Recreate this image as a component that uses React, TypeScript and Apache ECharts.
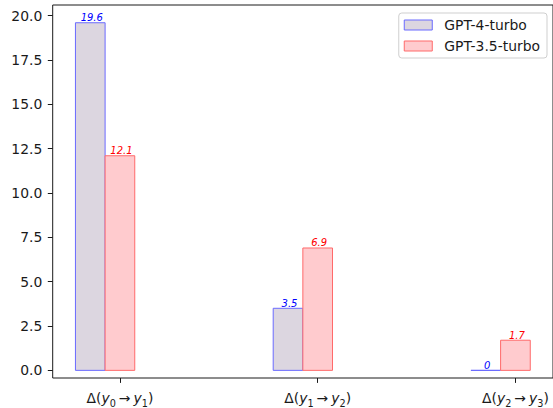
import React, { useEffect, useRef } from "react";
import * as echarts from "echarts";

const subscripts: [string, string][] = [["0", "1"], ["1", "2"], ["2", "3"]];
const positions = [0, 1, 2];
const gpt4 = [19.6, 3.5, 0];
const gpt35 = [12.1, 6.9, 1.7];
const seriesNames = ["GPT-4-turbo", "GPT-3.5-turbo"];
const yTicks = [0, 2.5, 5, 7.5, 10, 12.5, 15, 17.5, 20];

const FONT = "DejaVu Sans";
const TXT = "#1a1a1a";

const styles = [
  { fill: "#dcd6e0", stroke: "#6a6aff", label: "#0000ff", offset: -0.15 },
  { fill: "#ffcbce", stroke: "#ff6a6a", label: "#ff0000", offset: 0 },
];
const W = 0.15;

export default function App() {
  const ref = useRef<HTMLDivElement>(null);
  useEffect(() => {
    document.body.style.margin = "0";
    const chart = echarts.init(ref.current!, null, { renderer: "svg" });
    const mk = (idx: number, vals: number[]) => ({
      type: "custom",
      name: seriesNames[idx],
      itemStyle: { color: styles[idx].fill, borderColor: styles[idx].stroke, borderWidth: 1 },
      data: positions.map((p, i) => [p, vals[i]]),
      renderItem: (params: any, api: any) => {
        const x = api.value(0);
        const v = api.value(1);
        const s = styles[idx];
        const a = api.coord([x + s.offset - W / 2, v]);
        const b = api.coord([x + s.offset + W / 2, 0]);
        return {
          type: "group",
          children: [
            {
              type: "polygon",
              shape: { points: [[a[0], a[1]], [b[0], a[1]], [b[0], b[1]], [a[0], b[1]]] },
              style: { fill: s.fill, stroke: s.stroke, lineWidth: 1 },
            },
            {
              type: "text",
              x: (a[0] + b[0]) / 2 + 1.5,
              y: a[1],
              style: {
                text: v === 0 ? "0" : v.toFixed(1),
                fill: s.label,
                font: `italic 10px "${FONT}"`,
                align: "center",
                verticalAlign: "bottom",
              },
            },
          ],
        };
      },
    });
    chart.setOption({
      animation: false,
      textStyle: { fontFamily: FONT },
      grid: {
        left: 52.7,
        top: 5,
        right: -1.3,
        bottom: 28.7,
        show: true,
        borderColor: TXT,
        borderWidth: 1,
        backgroundColor: "transparent",
      },
      legend: {
        orient: "vertical",
        right: 6,
        top: 13,
        padding: [4, 7, 4, 5],
        itemGap: 5,
        itemWidth: 28,
        itemHeight: 10,
        borderColor: "#cfcfcf",
        borderWidth: 1,
        borderRadius: 3,
        backgroundColor: "rgba(255,255,255,0.8)",
        textStyle: { fontFamily: FONT, fontSize: 13.9, color: TXT, lineHeight: 16, padding: [0, 0, 0, 7] },
        data: seriesNames.map((n, i) => ({
          name: n,
          icon: "rect",
          itemStyle: { color: styles[i].fill, borderColor: styles[i].stroke, borderWidth: 1 },
        })),
      },
      xAxis: {
        type: "value",
        min: -0.34,
        max: 2.19,
        splitLine: { show: false },
        axisLine: { show: false, onZero: false },
        axisTick: { show: true, customValues: positions, length: 4.9, lineStyle: { color: TXT } },
        axisLabel: {
          customValues: positions,
          margin: 10,
          formatter: (val: number) => {
            const i = positions.indexOf(Math.round(val));
            if (i < 0) return "";
            const [s0, s1] = subscripts[i];
            return `{n|Δ(}{i|y}{s|${s0}}{a|→}{i|y}{s|${s1}}{n|)}`;
          },
          rich: {
            n: { fontFamily: FONT, fontSize: 13.9, color: TXT, lineHeight: 20, verticalAlign: "middle" },
            a: { fontFamily: FONT, fontSize: 13.9, color: TXT, lineHeight: 20, verticalAlign: "middle", padding: [0, 3, 0, 3] },
            i: { fontFamily: FONT, fontSize: 13.9, fontStyle: "italic", color: TXT, lineHeight: 20, verticalAlign: "middle" },
            s: { fontFamily: FONT, fontSize: 9.7, color: TXT, lineHeight: 10, verticalAlign: "bottom" },
          },
        },
      },
      yAxis: {
        type: "value",
        min: -0.43,
        max: 20.6,
        splitLine: { show: false },
        axisLine: { show: false, onZero: false },
        axisTick: { show: true, customValues: yTicks, length: 4.9, lineStyle: { color: TXT } },
        axisLabel: {
          customValues: yTicks,
          margin: 10.4,
          fontFamily: FONT,
          fontSize: 13.9,
          color: TXT,
          formatter: (v: number) => v.toFixed(1),
        },
      },
      series: [mk(0, gpt4), mk(1, gpt35)],
    });
    return () => chart.dispose();
  }, []);
  return <div ref={ref} style={{ width: 553, height: 408 }} />;
}
